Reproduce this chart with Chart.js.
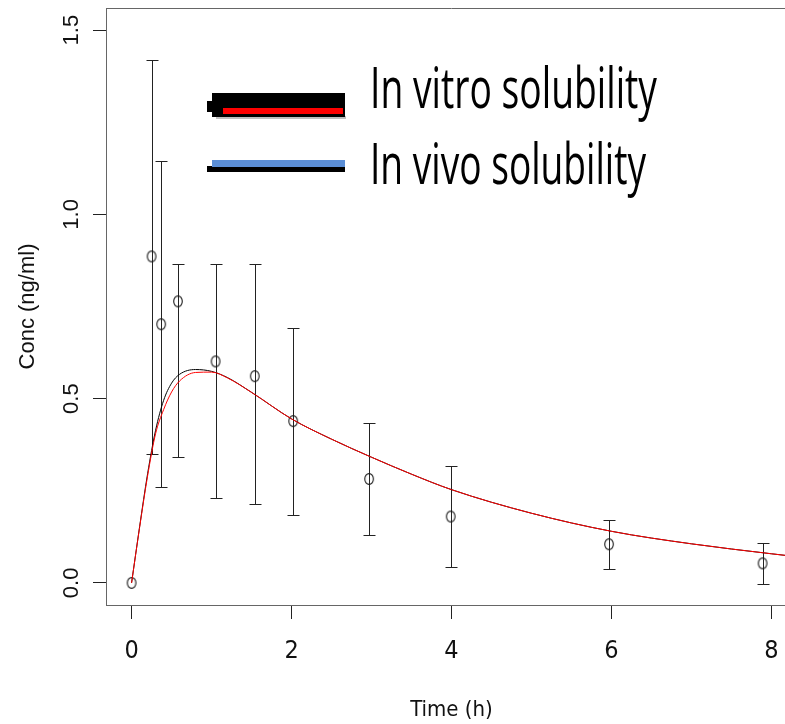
<!DOCTYPE html>
<html>
<head>
<meta charset="utf-8">
<title>Conc vs time</title>
<script src="https://cdn.jsdelivr.net/npm/chart.js@4/dist/chart.umd.min.js"></script>
<style>
  html, body { margin: 0; padding: 0; overflow: hidden; background: #fff; }
  #wrap { width: 797px; height: 724px; }
</style>
</head>
<body>
<div id="wrap"><canvas id="chart" width="797" height="724"></canvas></div>
<script>
// observed concentrations with spread
const obsTime = [0, 0.25, 0.37, 0.58, 1.05, 1.54, 2.02, 2.97, 3.99, 5.97, 7.89];
const obsConc = [0, 0.886, 0.702, 0.764, 0.601, 0.561, 0.439, 0.282, 0.180, 0.105, 0.053];
const obsHigh = [null, 1.42, 1.145, 0.865, 0.865, 0.865, 0.691, 0.433, 0.316, 0.170, 0.109];
const obsLow = [null, 0.349, 0.261, 0.342, 0.231, 0.215, 0.184, 0.130, 0.044, 0.038, -0.002];

// model curves
const curveTime = [0, 0.1, 0.2, 0.3, 0.4, 0.5, 0.6, 0.8, 1.0, 1.2, 1.5, 2.0, 2.5, 3.0, 3.5, 4.0, 5.0, 6.0, 7.0, 8.0, 8.2];
const curveBlack = [0, 0.152, 0.296, 0.414, 0.495, 0.542, 0.566, 0.579, 0.574, 0.557, 0.517, 0.445, 0.390, 0.341, 0.295, 0.253, 0.189, 0.140, 0.106, 0.079, 0.074];
const curveRed = [0, 0.150, 0.290, 0.405, 0.470, 0.518, 0.548, 0.571, 0.572, 0.556, 0.517, 0.445, 0.390, 0.341, 0.295, 0.253, 0.189, 0.140, 0.106, 0.079, 0.074];

const xTicks = [0, 2, 4, 6, 8];
const yTicks = [0, 0.5, 1.0, 1.5];

const legendLabels = ['In vitro solubility', 'In vivo solubility'];

const NARROW = "'Liberation Sans Narrow', 'Arial Narrow', 'DejaVu Sans Condensed', sans-serif";
const SANS = "'Liberation Sans', Arial, sans-serif";

// open oval marker
const marker = document.createElement('canvas');
marker.width = 12;
marker.height = 14;
const mc = marker.getContext('2d');
mc.strokeStyle = '#1a1a1a';
mc.lineWidth = 1.1;
mc.beginPath();
mc.ellipse(6, 7, 4.3, 5.4, 0, 0, Math.PI * 2);
mc.stroke();

function pairs(xs, ys) {
    return xs.map((x, i) => ({ x: x, y: ys[i] }));
}

const errorBars = {
    id: 'errorBars',
    beforeDatasetsDraw(chart) {
        const ctx = chart.ctx;
        const xs = chart.scales.x;
        const ys = chart.scales.y;
        ctx.save();
        ctx.strokeStyle = '#222';
        ctx.lineWidth = 1;
        obsTime.forEach((t, i) => {
            if (obsHigh[i] === null) return;
            const px = Math.round(xs.getPixelForValue(t)) + 0.5;
            const top = Math.round(ys.getPixelForValue(obsHigh[i])) + 0.5;
            const bot = Math.round(ys.getPixelForValue(obsLow[i])) + 0.5;
            ctx.beginPath();
            ctx.moveTo(px, top);
            ctx.lineTo(px, bot);
            ctx.moveTo(px - 6, top);
            ctx.lineTo(px + 6, top);
            ctx.moveTo(px - 6, bot);
            ctx.lineTo(px + 6, bot);
            ctx.stroke();
        });
        ctx.restore();
    }
};

// plot frame on top plus the drawn legend
const frameAndLegend = {
    id: 'frameAndLegend',
    afterDraw(chart) {
        const ctx = chart.ctx;
        const a = chart.chartArea;
        ctx.save();
        ctx.strokeStyle = '#666';
        ctx.lineWidth = 1;
        ctx.beginPath();
        ctx.moveTo(a.left, a.top + 0.5);
        ctx.lineTo(a.right, a.top + 0.5);
        ctx.stroke();

        // first legend bar: black with red stripe
        ctx.fillStyle = 'rgba(0,0,0,0.25)';
        ctx.fillRect(216, 116, 130, 3);
        ctx.fillStyle = '#000';
        ctx.fillRect(212, 93, 133, 24);
        ctx.fillRect(207, 101, 6, 11);
        ctx.fillStyle = '#ff0000';
        ctx.fillRect(223, 108, 120, 6);

        // second legend bar: blue over black
        ctx.fillStyle = '#000';
        ctx.fillRect(207, 166, 138, 6);
        ctx.fillStyle = '#5b8ed6';
        ctx.fillRect(212, 160, 133, 7);

        ctx.fillStyle = '#000';
        ctx.textBaseline = 'alphabetic';
        ctx.font = "56px 'Open Sans', sans-serif";
        const rows = [
            { text: legendLabels[0], x: 370, y: 108, w: 287 },
            { text: legendLabels[1], x: 370, y: 184, w: 276 }
        ];
        rows.forEach(r => {
            const m = ctx.measureText(r.text).width;
            ctx.save();
            ctx.translate(r.x, r.y);
            ctx.scale(r.w / m, 1);
            ctx.fillText(r.text, 0, 0);
            ctx.restore();
        });
        ctx.restore();
    }
};

const ctx = document.getElementById('chart');

new Chart(ctx, {
    type: 'scatter',
    data: {
        datasets: [
            {
                label: 'red',
                data: pairs(curveTime, curveRed),
                showLine: true,
                borderColor: '#ff0000',
                borderWidth: 1,
                pointRadius: 0,
                cubicInterpolationMode: 'monotone',
                order: 0
            },
            {
                label: 'black',
                data: pairs(curveTime, curveBlack),
                showLine: true,
                borderColor: '#000',
                borderWidth: 1,
                pointRadius: 0,
                cubicInterpolationMode: 'monotone',
                order: 1
            },
            {
                label: 'observed',
                data: pairs(obsTime, obsConc),
                pointStyle: marker,
                pointRadius: 6,
                showLine: false,
                order: 2
            }
        ]
    },
    options: {
        responsive: false,
        animation: false,
        devicePixelRatio: 1,
        layout: { autoPadding: false, padding: { top: 8, left: 0, right: 0, bottom: 0 } },
        plugins: {
            legend: { display: false },
            tooltip: { enabled: false }
        },
        scales: {
            x: {
                type: 'linear',
                min: -0.32,
                max: 8.32,
                afterBuildTicks: s => { s.ticks = xTicks.map(v => ({ value: v })); },
                afterFit: s => { s.height = 119; s.paddingLeft = 0; s.paddingRight = 0; },
                border: { display: true, color: '#666', width: 1 },
                grid: { drawOnChartArea: false, drawTicks: true, tickLength: 14, tickColor: '#222' },
                ticks: {
                    color: '#111',
                    font: { family: NARROW, size: 25 },
                    padding: 17,
                    maxRotation: 0,
                    minRotation: 0,
                    callback: v => String(v)
                },
                title: {
                    display: true,
                    text: 'Time (h)',
                    color: '#111',
                    font: { family: NARROW, size: 22 },
                    padding: { top: 0, bottom: 1 }
                }
            },
            y: {
                min: -0.06,
                max: 1.56,
                afterBuildTicks: s => { s.ticks = yTicks.map(v => ({ value: v })); },
                afterFit: s => { s.width = 106; s.paddingTop = 0; s.paddingBottom = 0; },
                border: { display: true, color: '#666', width: 1 },
                grid: { drawOnChartArea: false, drawTicks: true, tickLength: 13, tickColor: '#222' },
                ticks: {
                    color: '#111',
                    font: { family: SANS, size: 22 },
                    padding: 6,
                    minRotation: 90,
                    maxRotation: 90,
                    crossAlign: 'center',
                    callback: v => v.toFixed(1)
                },
                title: {
                    display: true,
                    text: 'Conc (ng/ml)',
                    color: '#111',
                    font: { family: SANS, size: 22 },
                    padding: { top: 15, bottom: 0 }
                }
            }
        }
    },
    plugins: [errorBars, frameAndLegend]
});
</script>
</body>
</html>
